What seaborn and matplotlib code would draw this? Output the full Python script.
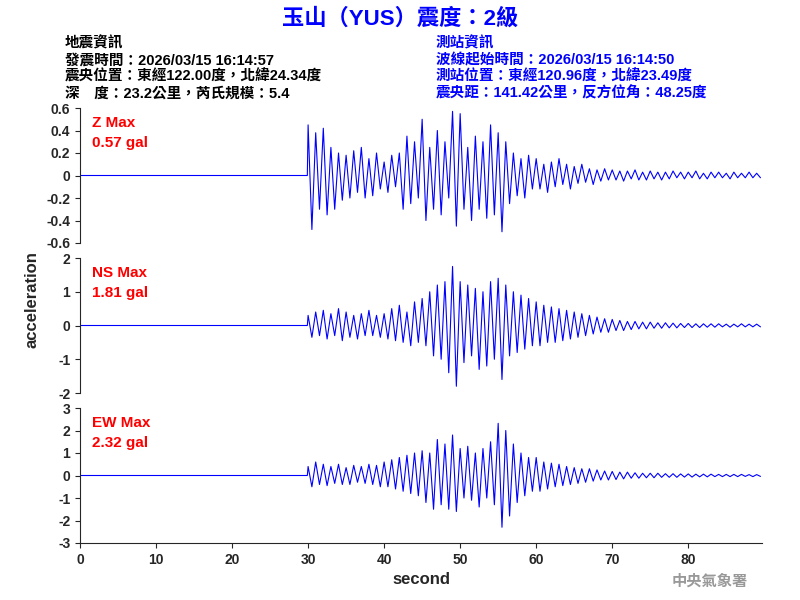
import numpy as np
import pandas as pd
import matplotlib
matplotlib.use("Agg")
import matplotlib.pyplot as plt
import seaborn as sns

sns.set_style("ticks")
plt.rcParams["font.family"] = ["Liberation Sans", "Noto Sans CJK TC", "DejaVu Sans"]

# ---------------------------------------------------------------------------
# Data (signed peaks every 0.5 s from 30 s)
# ---------------------------------------------------------------------------
pre_time = [0.0, 29.9]
pre_vals = [0.0, 0.0]

z_vals = [0.45,-0.48,0.38,-0.3,0.42,-0.35,0.25,-0.3,0.2,-0.22,
          0.18,-0.2,0.22,-0.15,0.25,-0.2,0.15,-0.18,0.2,-0.12,
          0.12,-0.15,0.18,-0.1,0.2,-0.3,0.35,-0.25,0.3,-0.2,
          0.5,-0.4,0.25,-0.3,0.4,-0.35,0.3,-0.2,0.57,-0.45,
          0.55,-0.3,0.25,-0.4,0.35,-0.3,0.3,-0.38,0.45,-0.35,
          0.38,-0.5,0.3,-0.25,0.2,-0.18,0.15,-0.2,0.18,-0.12,
          0.15,-0.12,0.1,-0.15,0.12,-0.1,0.15,-0.08,0.1,-0.12,
          0.08,-0.07,0.1,-0.06,0.06,-0.08,0.05,-0.05,0.06,-0.04,
          0.05,-0.04,0.04,-0.05,0.04,-0.03,0.05,-0.04,0.03,-0.04,
          0.04,-0.03,0.03,-0.04,0.03,-0.03,0.04,-0.02,0.03,-0.03,
          0.03,-0.02,0.04,-0.03,0.02,-0.03,0.03,-0.02,0.03,-0.02,
          0.02,-0.03,0.03,-0.02,0.02,-0.02,0.03,-0.02,0.02,-0.02]

ns_vals = [0.3,-0.35,0.4,-0.3,0.45,-0.4,0.35,-0.3,0.5,-0.45,
           0.4,-0.35,0.3,-0.4,0.35,-0.3,0.45,-0.3,0.3,-0.35,
           0.35,-0.4,0.5,-0.45,0.6,-0.5,0.4,-0.6,0.7,-0.5,
           0.8,-0.6,1.0,-0.9,1.2,-1.0,1.3,-1.4,1.75,-1.8,
           1.3,-1.1,1.2,-0.9,1.1,-1.3,1.0,-1.2,1.3,-1.0,
           1.4,-1.6,1.2,-0.9,1.0,-0.8,0.9,-0.7,0.8,-0.6,
           0.7,-0.6,0.6,-0.5,0.55,-0.5,0.5,-0.45,0.45,-0.4,
           0.4,-0.35,0.35,-0.3,0.3,-0.25,0.25,-0.2,0.2,-0.2,
           0.18,-0.15,0.15,-0.15,0.12,-0.12,0.12,-0.1,0.1,-0.1,
           0.1,-0.08,0.08,-0.08,0.08,-0.07,0.07,-0.07,0.06,-0.06,
           0.06,-0.06,0.05,-0.06,0.05,-0.05,0.05,-0.05,0.05,-0.04,
           0.04,-0.05,0.04,-0.04,0.05,-0.04,0.04,-0.04,0.04,-0.04]

ew_vals = [0.4,-0.5,0.6,-0.4,0.5,-0.45,0.4,-0.35,0.5,-0.4,
           0.35,-0.4,0.45,-0.3,0.4,-0.35,0.5,-0.4,0.45,-0.5,
           0.6,-0.5,0.7,-0.6,0.8,-0.7,0.9,-0.8,1.0,-0.9,
           1.1,-1.2,1.0,-1.5,1.6,-1.3,1.4,-1.5,1.8,-1.6,
           1.2,-1.0,1.3,-1.1,1.0,-1.4,1.2,-1.0,1.5,-1.3,
           2.32,-2.3,2.0,-1.8,1.4,-1.2,1.0,-0.9,0.8,-0.7,
           0.8,-0.7,0.6,-0.6,0.55,-0.5,0.5,-0.45,0.4,-0.4,
           0.35,-0.35,0.3,-0.3,0.3,-0.25,0.25,-0.2,0.2,-0.2,
           0.18,-0.18,0.15,-0.15,0.15,-0.12,0.12,-0.12,0.1,-0.1,
           0.1,-0.1,0.1,-0.08,0.08,-0.08,0.08,-0.08,0.07,-0.07,
           0.07,-0.07,0.06,-0.06,0.06,-0.06,0.06,-0.05,0.05,-0.05,
           0.05,-0.05,0.05,-0.05,0.05,-0.04,0.04,-0.05,0.04,-0.04]

event_time = np.arange(30.0, 90.0, 0.5)

components = ["Z", "NS", "EW"]
max_labels = ["0.57 gal", "1.81 gal", "2.32 gal"]
series = [z_vals, ns_vals, ew_vals]
ylims = [(-0.6, 0.6), (-2, 2), (-3, 3)]
yticks = [np.round(np.arange(-0.6, 0.61, 0.2), 1), np.arange(-2, 3, 1), np.arange(-3, 4, 1)]

# ---------------------------------------------------------------------------
fig = plt.figure(figsize=(8, 6), dpi=100)
bottoms = [0.595, 0.345, 0.095]
axes = [fig.add_axes([0.1, b, 0.8525, 0.225]) for b in bottoms]

for i, ax in enumerate(axes):
    df = pd.DataFrame({"t": pre_time + list(event_time),
                       "a": pre_vals + list(series[i])})
    sns.lineplot(data=df, x="t", y="a", ax=ax, color="#0000ff",
                 linewidth=0.8, estimator=None, sort=False)
    ax.set_xlim(0, 89.7)
    ax.set_ylim(*ylims[i])
    ax.set_yticks(yticks[i])
    ax.set_yticklabels([f"{v:g}" for v in yticks[i]], fontweight="bold", fontsize=10)
    ax.set_ylabel("")
    ax.set_xlabel("")
    for s in ["top", "right"]:
        ax.spines[s].set_visible(False)
    if i < 2:
        ax.spines["bottom"].set_visible(False)
        ax.set_xticks([])
    else:
        ax.set_xticks(range(0, 90, 10))
        ax.set_xticklabels([str(v) for v in range(0, 90, 10)], fontweight="bold", fontsize=10)
        ax.set_xlabel("second", fontweight="bold", fontsize=12)
    ax.text(0.018, 0.94, f"{components[i]} Max\n{max_labels[i]}", transform=ax.transAxes,
            color="red", fontsize=11, fontweight="bold", va="top", linespacing=1.5)

fig.text(0.04, 0.5, "acceleration", rotation=90, ha="center", va="center",
         fontweight="bold", fontsize=12)

fig.text(0.5, 0.968, "玉山（YUS）震度：2級", ha="center", va="center",
         color="#0000ff", fontsize=16, fontweight="bold")

left_info = ["地震資訊", "發震時間：2026/03/15 16:14:57",
             "震央位置：東經122.00度，北緯24.34度",
             "深　度：23.2公里，芮氏規模：5.4"]
right_info = ["測站資訊", "波線起始時間：2026/03/15 16:14:50",
              "測站位置：東經120.96度，北緯23.49度",
              "震央距：141.42公里，反方位角：48.25度"]
for k, (l, r) in enumerate(zip(left_info, right_info)):
    y = 0.927 - k * 0.0275
    fig.text(0.081, y, l, color="black", fontsize=10.5, fontweight="bold", va="center")
    fig.text(0.545, y, r, color="#0000ff", fontsize=10.5, fontweight="bold", va="center")

fig.text(0.935, 0.032, "中央氣象署", ha="right", va="center", color="#999999",
         fontsize=11, fontweight="bold", family=["Noto Sans CJK TC", "DejaVu Sans"])

fig.savefig("out.png", dpi=100)
